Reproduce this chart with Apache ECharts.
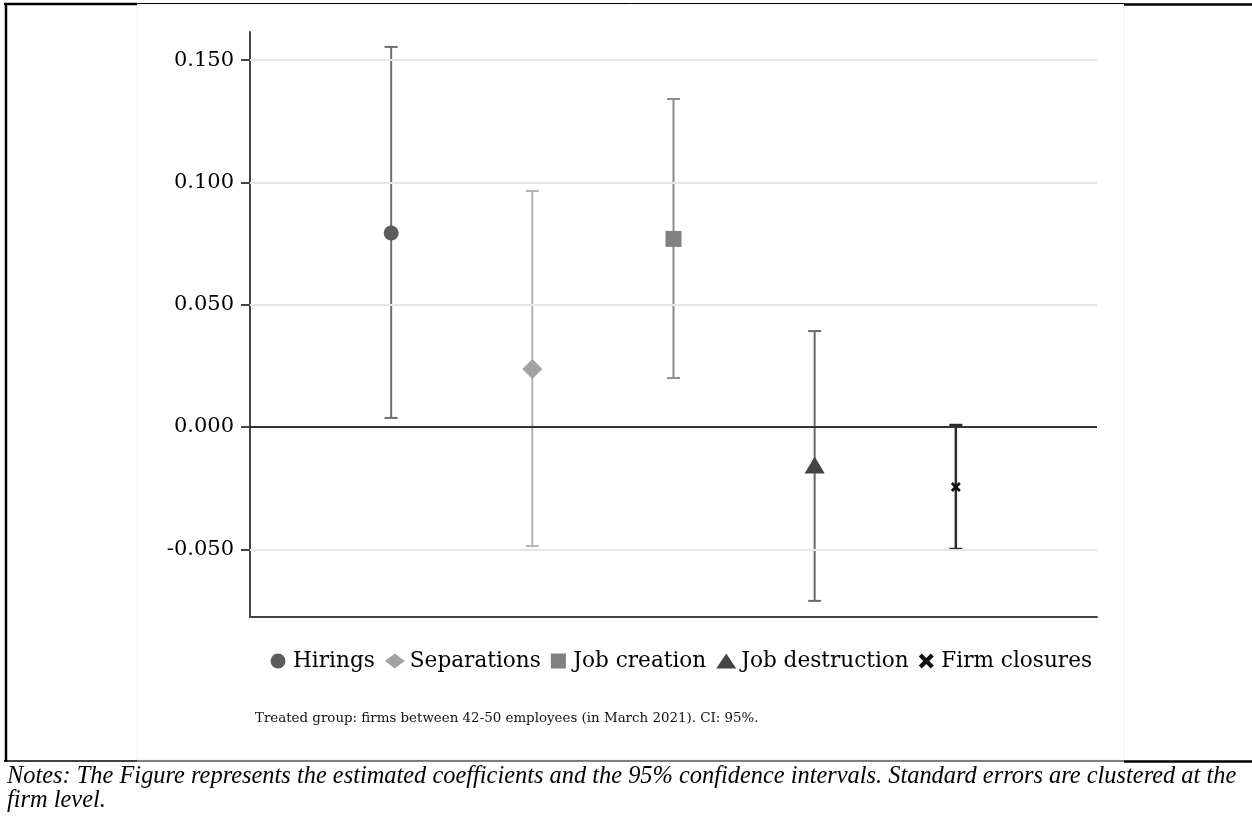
<!DOCTYPE html>
<html>
<head>
<meta charset="utf-8">
<script src="https://cdn.jsdelivr.net/npm/echarts@6/dist/echarts.min.js"></script>
<style>
html,body{margin:0;padding:0;background:#fff;}
#chart{width:1252px;height:817px;}
</style>
</head>
<body>
<div id="chart"></div>
<script>
// ---- data ----
const categories = ['Hirings', 'Separations', 'Job creation', 'Job destruction', 'Firm closures'];
const positions = [1, 2, 3, 4, 5];
const estimates = [0.0793, 0.0237, 0.0769, -0.0155, -0.0245];
const ciLow = [0.0037, -0.0487, 0.0200, -0.0711, -0.0499];
const ciHigh = [0.1554, 0.0965, 0.1341, 0.0392, 0.0008];
const yTicks = [-0.05, 0, 0.05, 0.1, 0.15];
const subtitleText = 'Treated group: firms between 42-50 employees (in March 2021). CI: 95%.';
const notesLine1 = 'Notes: The Figure represents the estimated coefficients and the 95% confidence intervals. Standard errors are clustered at the';
const notesLine2 = 'firm level.';

// ---- styles ----
const markerColors = ['#5c5c5c', '#a3a3a3', '#818181', '#444444', '#111111'];
const ciColors = ['#6e6e6e', '#b3b3b3', '#8c8c8c', '#6a6a6a', '#2a2a2a'];
const ciWidths = [2, 2, 2, 2, 2.5];
const crossPath = 'path://M2,0 L5,3 L8,0 L10,2 L7,5 L10,8 L8,10 L5,7 L2,10 L0,8 L3,5 L0,2 Z';
const squarePath = 'path://M0,0 L10,0 L10,10 L0,10 Z';
const symbols = ['circle', 'diamond', 'rect', 'triangle', crossPath];
const symbolSizes = [15, [20, 20], 16, [20, 17], 10];
const legendIcons = ['circle', 'diamond', squarePath, 'triangle', crossPath];

const serif = 'DejaVu Serif';

const chart = echarts.init(document.getElementById('chart'), null, {renderer: 'canvas'});

const series = [];
// gridlines and zero line
series.push({
  type: 'line', data: [], z: 1, silent: true,
  markLine: {
    silent: true, symbol: 'none', label: {show: false},
    data: yTicks.filter(v => v !== 0).map(v => ({yAxis: v, lineStyle: {color: '#e6e6e6', width: 2, type: 'solid'}}))
      .concat([{yAxis: 0, lineStyle: {color: '#333333', width: 2, type: 'solid'}}])
  }
});
// confidence intervals
categories.forEach((name, i) => {
  series.push({
    type: 'custom', z: 3, silent: true,
    data: [[positions[i], ciLow[i], ciHigh[i]]],
    renderItem: function (params, api) {
      const x = api.value(0), lo = api.value(1), hi = api.value(2);
      const pLo = api.coord([x, lo]), pHi = api.coord([x, hi]);
      const hw = 6.5;
      const st = {stroke: ciColors[i], lineWidth: ciWidths[i]};
      return {type: 'group', children: [
        {type: 'line', shape: {x1: pLo[0], y1: pLo[1], x2: pHi[0], y2: pHi[1]}, style: st},
        {type: 'line', shape: {x1: pLo[0] - hw, y1: pLo[1], x2: pLo[0] + hw, y2: pLo[1]}, style: st},
        {type: 'line', shape: {x1: pHi[0] - hw, y1: pHi[1], x2: pHi[0] + hw, y2: pHi[1]}, style: st}
      ]};
    }
  });
});
// point estimates
categories.forEach((name, i) => {
  series.push({
    name: name, type: 'scatter', z: 4,
    symbol: symbols[i], symbolSize: symbolSizes[i],
    itemStyle: {color: markerColors[i], opacity: 1},
    data: [[positions[i], estimates[i]]]
  });
});

const option = {
  backgroundColor: '#ffffff',
  animation: false,
  grid: {left: 250, right: 155, top: 32, bottom: 200, containLabel: false},
  xAxis: {
    type: 'value', min: 0, max: 6,
    axisLine: {show: true, onZero: false, lineStyle: {color: '#444444', width: 2}},
    axisTick: {show: false}, axisLabel: {show: false}, splitLine: {show: false}
  },
  yAxis: {
    type: 'value', min: -0.0777, max: 0.1615,
    axisLine: {show: true, lineStyle: {color: '#444444', width: 2}},
    axisTick: {show: true, length: 9, customValues: yTicks, lineStyle: {color: '#444444', width: 2}},
    axisLabel: {
      show: true, customValues: yTicks, margin: 16,
      fontFamily: serif, fontSize: 21, color: '#000000',
      formatter: v => v.toFixed(3)
    },
    splitLine: {show: false}
  },
  legend: {
    data: categories.map((n, i) => ({name: n, icon: legendIcons[i], itemStyle: {color: markerColors[i]}})),
    right: 155, top: 645, itemWidth: 20, itemHeight: 15, itemGap: 10,
    textStyle: {fontFamily: serif, fontSize: 21.6, color: '#000000'},
    selectedMode: false
  },
  graphic: [
    {type: 'rect', shape: {x: 137, y: 4, width: 987, height: 756}, style: {fill: 'none', stroke: '#f2f2f2', lineWidth: 1}, z: 0},
    {type: 'line', shape: {x1: 4, y1: 4, x2: 137, y2: 4}, style: {stroke: '#000', lineWidth: 2.5}},
    {type: 'line', shape: {x1: 137, y1: 3.5, x2: 1124, y2: 3.5}, style: {stroke: '#000', lineWidth: 1}},
    {type: 'line', shape: {x1: 1124, y1: 4.5, x2: 1252, y2: 4.5}, style: {stroke: '#000', lineWidth: 2.5}},
    {type: 'line', shape: {x1: 6, y1: 3, x2: 6, y2: 762}, style: {stroke: '#000', lineWidth: 2.5}},
    {type: 'line', shape: {x1: 4, y1: 761, x2: 137, y2: 761}, style: {stroke: '#000', lineWidth: 1.5}},
    {type: 'line', shape: {x1: 137, y1: 761, x2: 1124, y2: 761}, style: {stroke: '#000', lineWidth: 1}},
    {type: 'line', shape: {x1: 1124, y1: 761.5, x2: 1252, y2: 761.5}, style: {stroke: '#000', lineWidth: 2.5}},
    {type: 'text', x: 255, y: 719, style: {text: subtitleText, fontFamily: serif, fontSize: 13.4, fill: '#111111', verticalAlign: 'middle'}},
    {type: 'text', x: 7, y: 777, style: {text: notesLine1, fontFamily: 'Liberation Serif', fontStyle: 'italic', fontSize: 24.4, fill: '#000', verticalAlign: 'middle'}},
    {type: 'text', x: 7, y: 801, style: {text: notesLine2, fontFamily: 'Liberation Serif', fontStyle: 'italic', fontSize: 24.4, fill: '#000', verticalAlign: 'middle'}}
  ],
  series: series
};
chart.setOption(option);
</script>
</body>
</html>
